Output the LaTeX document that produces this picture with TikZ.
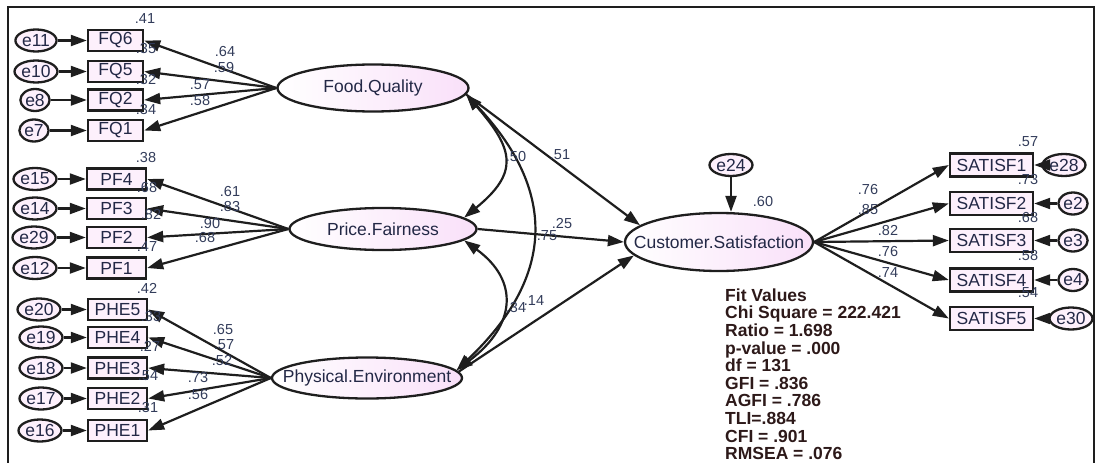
\documentclass[tikz,border=0pt]{standalone}
\usepackage{fontspec}
\setmainfont{Liberation Sans}
\usetikzlibrary{arrows.meta,shapes.geometric}
\definecolor{boxfill}{RGB}{253,240,252}
\definecolor{latfill}{RGB}{249,224,249}
\definecolor{txt}{RGB}{35,40,70}
\definecolor{lbltxt}{RGB}{50,60,90}
\definecolor{fittxt}{RGB}{45,25,25}
\definecolor{ln}{RGB}{30,30,30}
\newcommand\fnode{\fontsize{17.5}{17.5}\selectfont}
\newcommand\flbl{\fontsize{14.5}{14.5}\selectfont}
\newcommand\ffit{\fontsize{17.5}{17.6}\selectfont\bfseries}
\begin{document}
\begin{tikzpicture}[x=1pt,y=-1pt,
  obs/.style={rectangle,draw=ln,line width=2.4pt,fill=boxfill,inner sep=0pt,minimum height=21pt,font=\fnode,text=txt},
  lat/.style={ellipse,draw=ln,line width=2.3pt,left color=white,right color=latfill,inner sep=0pt},
  latlbl/.style={font=\fnode,text=txt,inner sep=0pt},
  err/.style={ellipse,draw=ln,line width=2.3pt,fill=boxfill,inner sep=0.6pt,minimum height=22pt,font=\fnode,text=txt},
  lbl/.style={font=\flbl,text=lbltxt,inner sep=0pt},
  arr/.style={draw=ln,line width=2.2pt,-{Triangle[length=16pt,width=11pt]}},
  cov/.style={draw=ln,line width=2.2pt,{Triangle[length=16pt,width=11pt]}-{Triangle[length=16pt,width=11pt]}},
  frame/.style={draw=ln,line width=2.2pt}
]
\useasboundingbox (0,0) rectangle (1095,463);
\draw[frame] (8,463) -- (8,7) -- (1094,7) -- (1094,463);

% latent variables
\node[lat,minimum width=191pt,minimum height=47pt,label={[latlbl]center:Food.Quality}] (FQ) at (373,88) {};
\node[lat,minimum width=187pt,minimum height=42pt,label={[latlbl]center:Price.Fairness}] (PF) at (383,229) {};
\node[lat,minimum width=190pt,minimum height=41pt,label={[latlbl]center:Physical.Environment}] (PE) at (367,378) {};
\node[lat,minimum width=188pt,minimum height=58pt,label={[latlbl]center:Customer.Satisfaction}] (CS) at (719,242) {};

% FQ indicators
\node[obs,minimum width=55pt] (FQ6) at (115.5,40.5) {FQ6};
\node[obs,minimum width=55pt] (FQ5) at (115.5,71.5) {FQ5};
\node[obs,minimum width=55pt] (FQ2) at (115.5,100) {FQ2};
\node[obs,minimum width=55pt] (FQ1) at (115.5,130.5) {FQ1};
\node[err] (e11) at (36,40.5) {e11};
\node[err] (e10) at (36,71.5) {e10};
\node[err] (e8) at (35,100) {e8};
\node[err] (e7) at (34,130.5) {e7};

% PF indicators
\node[obs,minimum width=59pt] (PF4) at (116.5,179) {PF4};
\node[obs,minimum width=59pt] (PF3) at (116.5,208.5) {PF3};
\node[obs,minimum width=59pt] (PF2) at (116.5,237.5) {PF2};
\node[obs,minimum width=59pt] (PF1) at (116.5,268) {PF1};
\node[err] (e15) at (35,179) {e15};
\node[err] (e14) at (35,208.5) {e14};
\node[err] (e29) at (34,237.5) {e29};
\node[err] (e12) at (35,268) {e12};

% PE indicators
\node[obs,minimum width=59pt] (PHE5) at (117.5,309.5) {PHE5};
\node[obs,minimum width=59pt] (PHE4) at (117.5,337.5) {PHE4};
\node[obs,minimum width=59pt] (PHE3) at (117.5,368) {PHE3};
\node[obs,minimum width=59pt] (PHE2) at (117.5,398.5) {PHE2};
\node[obs,minimum width=59pt] (PHE1) at (117.5,430.5) {PHE1};
\node[err] (e20) at (39,309.5) {e20};
\node[err] (e19) at (41,337.5) {e19};
\node[err] (e18) at (41,368) {e18};
\node[err] (e17) at (41,398.5) {e17};
\node[err] (e16) at (40,430.5) {e16};

% CS indicators
\node[obs,minimum width=83pt,minimum height=23pt] (S1) at (991.5,165) {SATISF1};
\node[obs,minimum width=83pt,minimum height=23pt] (S2) at (991.5,203.5) {SATISF2};
\node[obs,minimum width=83pt,minimum height=23pt] (S3) at (991.5,240.5) {SATISF3};
\node[obs,minimum width=83pt,minimum height=23pt] (S4) at (991.5,280) {SATISF4};
\node[obs,minimum width=83pt,minimum height=23pt] (S5) at (991.5,318.5) {SATISF5};
\node[err] (e28) at (1064,165) {e28};
\node[err] (e2) at (1073,203.5) {e2};
\node[err] (e3) at (1073,240.5) {e3};
\node[err] (e4) at (1073,280) {e4};
\node[err] (e30) at (1071,318.5) {e30};
\node[err] (e24) at (731,165) {e24};

% error arrows
\foreach \e/\b in {e11/FQ6,e10/FQ5,e8/FQ2,e7/FQ1,e15/PF4,e14/PF3,e29/PF2,e12/PF1,
  e20/PHE5,e19/PHE4,e18/PHE3,e17/PHE2,e16/PHE1,e28/S1,e2/S2,e3/S3,e4/S4,e30/S5}
  \draw[arr] (\e) -- (\b);
\draw[arr] (e24) -- (e24 |- CS.north);

% loadings
\foreach \b in {FQ6,FQ5,FQ2,FQ1} \draw[arr] (FQ.west) -- (\b.east);
\foreach \b in {PF4,PF3,PF2,PF1} \draw[arr] (PF.west) -- (\b.east);
\foreach \b in {PHE5,PHE4,PHE3,PHE2,PHE1} \draw[arr] (PE.west) -- (\b.east);
\foreach \b in {S1,S2,S3,S4,S5} \draw[arr] (CS.east) -- (\b.west);

% structural paths
\draw[arr] (FQ.-4) -- (CS.168);
\draw[arr] (PF.east) -- (CS.west);
\draw[arr] (PE.4) -- (CS.189);

% covariances
\draw[cov] (FQ.-4) .. controls +(48,55) and +(55,-45) .. (PF.8);
\draw[cov] (FQ.-4) .. controls +(90,95) and +(100,-95) .. (PE.5);
\draw[cov] (PF.-8) .. controls +(55,40) and +(60,-45) .. (PE.5);

% labels FQ
\node[lbl] (l1) at (145,19) {.41};
\node[lbl] (l2) at (146,49) {.35};
\node[lbl] (l3) at (225,52) {.64};
\node[lbl] (l4) at (224,68) {.59};
\node[lbl] (l5) at (146,80) {.32};
\node[lbl] (l6) at (200,85) {.57};
\node[lbl] (l7) at (200,101) {.58};
\node[lbl] (l8) at (146,110) {.34};
% labels PF
\node[lbl] (l9) at (146,158) {.38};
\node[lbl] (l10) at (147,188) {.68};
\node[lbl] (l11) at (230,192) {.61};
\node[lbl] (l12) at (230,207) {.83};
\node[lbl] (l13) at (151,215) {.82};
\node[lbl] (l14) at (210,224) {.90};
\node[lbl] (l15) at (205,238) {.68};
\node[lbl] (l16) at (147,247) {.47};
% labels PE
\node[lbl] (l17) at (147,288) {.42};
\node[lbl] (l18) at (223,330) {.65};
\node[lbl] (l19) at (224,345) {.57};
\node[lbl] (l20) at (222,361) {.52};
\node[lbl] (l21) at (198,378) {.73};
\node[lbl] (l22) at (198,395) {.56};
\node[lbl] (l23) at (151,317) {.33};
\node[lbl] (l24) at (150,346) {.27};
\node[lbl] (l25) at (148,376) {.54};
\node[lbl] (l26) at (148,408) {.31};
% center labels
\node[lbl] (l27) at (516,157) {.50};
\node[lbl] (l28) at (560,155) {.51};
\node[lbl] (l29) at (562,224) {.25};
\node[lbl] (l30) at (547,236) {.75};
\node[lbl] (l31) at (516,308) {.34};
\node[lbl] (l32) at (534,301) {.14};
\node[lbl] (l33) at (763,202) {.60};
% right labels
\node[lbl] (l34) at (1028,142) {.57};
\node[lbl] (l35) at (1028,180) {.73};
\node[lbl] (l36) at (1028,218) {.68};
\node[lbl] (l37) at (1028,256) {.58};
\node[lbl] (l38) at (1028,293) {.54};
\node[lbl] (l39) at (868,190) {.76};
\node[lbl] (l40) at (868,210) {.85};
\node[lbl] (l41) at (888,231) {.82};
\node[lbl] (l42) at (888,252) {.76};
\node[lbl] (l43) at (888,273) {.74};

% fit values
\node[anchor=north west,align=left,inner sep=0pt,font=\ffit,text=fittxt] (fit) at (725,288.5)
 {Fit Values\\Chi Square = 222.421\\Ratio = 1.698\\p-value = .000\\df = 131\\GFI = .836\\AGFI = .786\\TLI=.884\\CFI = .901\\RMSEA = .076};
\end{tikzpicture}
\end{document}
